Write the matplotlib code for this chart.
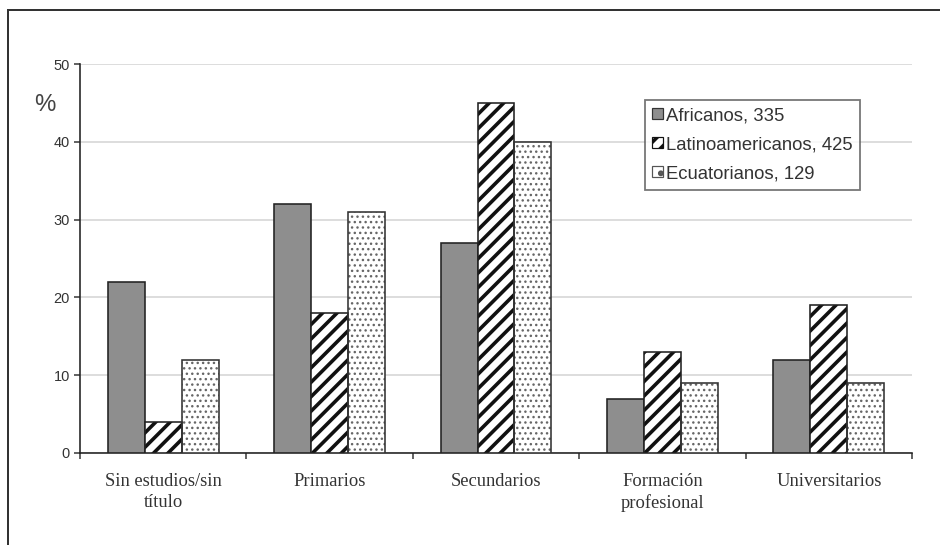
import numpy as np
import matplotlib.pyplot as plt
from matplotlib.lines import Line2D
from matplotlib.patches import Patch

DPI = 130
W, H = 940, 545

categories = ["Sin estudios/sin\ntítulo", "Primarios", "Secundarios",
              "Formación\nprofesional", "Universitarios"]
africanos = [22, 32, 27, 7, 12]
latinoamericanos = [4, 18, 45, 13, 19]
ecuatorianos = [12, 31, 40, 9, 9]
series_labels = ["Africanos, 335", "Latinoamericanos, 425", "Ecuatorianos, 129"]


def px(v):
    # pixels -> points at the working dpi
    return v * 72.0 / DPI


def thin_hatch(patches, lw):
    # dots need a finer hatch stroke than the stripes
    for p in patches:
        if hasattr(p, "set_hatch_linewidth"):
            p.set_hatch_linewidth(lw)


plt.rcParams["hatch.linewidth"] = px(3.6)

fig = plt.figure(figsize=(W / DPI, H / DPI), dpi=DPI)
ax = fig.add_axes([80 / W, 1 - 453 / H, 832 / W, (453 - 64) / H])

x = np.arange(len(categories))
bw = 0.222

# solid grey bars
ax.bar(x - bw, africanos, bw, color="#8e8e8e", edgecolor="#222222",
       linewidth=px(1.6), zorder=3)

# striped bars: hatch layer first, then a plain outline on top
ax.bar(x, latinoamericanos, bw, color="white", edgecolor="#111111",
       hatch="///", linewidth=0, zorder=3)
ax.bar(x, latinoamericanos, bw, fill=False, edgecolor="#222222",
       linewidth=px(1.6), zorder=4)

# dotted bars
dots = ax.bar(x + bw, ecuatorianos, bw, color="white", edgecolor="#666666",
              hatch="....", linewidth=0, zorder=3)
thin_hatch(dots, px(1.4))
ax.bar(x + bw, ecuatorianos, bw, fill=False, edgecolor="#333333",
       linewidth=px(1.6), zorder=4)

ax.set_xlim(-0.5, len(categories) - 0.5)
ax.set_ylim(0, 50)
ax.set_yticks(np.arange(0, 51, 10))
ax.yaxis.grid(True, color="#dadada", linewidth=px(1.8), zorder=0)
ax.set_axisbelow(True)

ax.set_xticks(x)
ax.set_xticklabels(categories, family="Liberation Serif", fontsize=px(18.5),
                   color="#333333", linespacing=1.3)
ax.set_xticks(np.arange(-0.5, len(categories)), minor=True)
ax.tick_params(axis="x", which="major", length=0, pad=px(20))
ax.tick_params(axis="x", which="minor", length=px(6), width=px(1.5),
               direction="out", color="#333333")
ax.tick_params(axis="y", length=px(6), width=px(1.5), direction="out",
               color="#333333", labelsize=px(14.5), labelcolor="#333333", pad=px(4))
for t in ax.get_yticklabels():
    t.set_family("Liberation Sans")

for s in ["top", "right"]:
    ax.spines[s].set_visible(False)
for s in ["left", "bottom"]:
    ax.spines[s].set_linewidth(px(1.6))
    ax.spines[s].set_color("#222222")

fig.text(45 / W, 1 - 105 / H, "%", ha="center", va="center",
         family="Liberation Sans", fontsize=px(24), color="#444444")

handles = [
    Patch(facecolor="#8e8e8e", edgecolor="#333333", linewidth=px(1.2)),
    Patch(facecolor="white", edgecolor="#111111", hatch="///", linewidth=px(1.2)),
    Patch(facecolor="white", edgecolor="#555555", hatch="..", linewidth=px(1.2)),
]
thin_hatch(handles[2:], px(1.2))
leg = fig.legend(handles, series_labels, loc="upper left",
                 bbox_to_anchor=(645 / W, 1 - 100 / H),
                 prop={"family": "Liberation Sans", "size": px(18.5)},
                 frameon=True, fancybox=False, handlelength=0.55,
                 handleheight=0.55, handletextpad=0.2, labelspacing=0.65,
                 borderpad=0.4, borderaxespad=0)
leg.get_frame().set_edgecolor("#555555")
leg.get_frame().set_linewidth(px(1.8))
for t in leg.get_texts():
    t.set_color("#333333")

# outer frame, open towards the right and bottom
fig.add_artist(Line2D([8 / W, 1.0], [1 - 10 / H, 1 - 10 / H],
                      transform=fig.transFigure, color="#333333", linewidth=px(2)))
fig.add_artist(Line2D([8 / W, 8 / W], [1 - 10 / H, 0.0],
                      transform=fig.transFigure, color="#333333", linewidth=px(2)))

fig.savefig("out.png", dpi=DPI)
